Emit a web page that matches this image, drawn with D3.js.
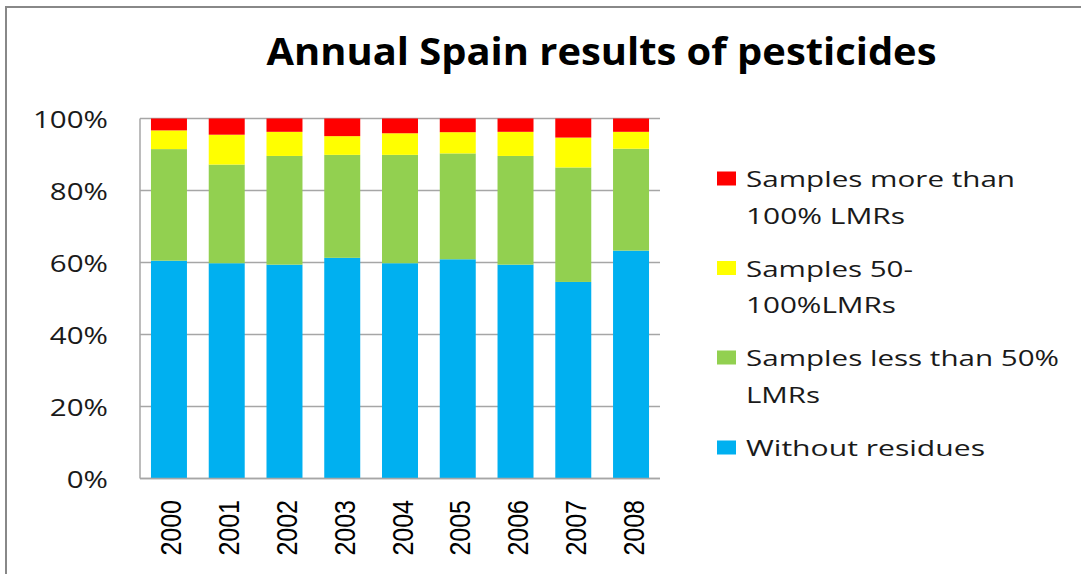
<!DOCTYPE html>
<html lang="en">
<head>
    <meta http-equiv="Content-Type" content="text/html; charset=utf-8" />
    <title>Annual Spain results of pesticides</title>
    <style type="text/css">
        body{ margin:0; background:#fff; }
        text{ fill:#1a1a1a; }
    </style>
</head>
<body>

<script src="https://cdn.jsdelivr.net/npm/d3@7/dist/d3.min.js"></script>

<script>
    // data (percent of samples)
    var years = ["2000","2001","2002","2003","2004","2005","2006","2007","2008"];
    var withoutResidues = [60.5, 59.8, 59.4, 61.3, 59.8, 60.9, 59.4, 54.6, 63.3];
    var lessThan50      = [31.0, 27.4, 30.2, 28.6, 30.1, 29.4, 30.2, 31.8, 28.3];
    var from50to100     = [5.2, 8.3, 6.7, 5.2, 6.0, 5.9, 6.7, 8.3, 4.7];
    var moreThan100     = [3.3, 4.5, 3.7, 4.9, 4.1, 3.8, 3.7, 5.3, 3.7];
    var yTicks = [0, 20, 40, 60, 80, 100];

    var series = [
        {key:"without", label:["Without residues"], color:"#00B0F0", values:withoutResidues},
        {key:"less50",  label:["Samples less than 50%","LMRs"], color:"#92D050", values:lessThan50},
        {key:"50to100", label:["Samples 50-","100%LMRs"], color:"#FFFF00", values:from50to100},
        {key:"more100", label:["Samples more than","100% LMRs"], color:"#FF0000", values:moreThan100}
    ];

    var width = 1081, height = 574;
    var svg = d3.select("body").append("svg")
        .attr("width", width)
        .attr("height", height);

    // chart border (runs off the right and bottom)
    svg.append("rect")
        .attr("x", 6).attr("y", 7)
        .attr("width", 1200).attr("height", 700)
        .attr("fill", "none")
        .attr("stroke", "#888")
        .attr("stroke-width", 2);

    // title
    svg.append("text")
        .attr("x", 601.5).attr("y", 65)
        .attr("text-anchor", "middle")
        .attr("font-family", "'Open Sans', sans-serif")
        .attr("font-weight", 700)
        .attr("font-size", 37)
        .attr("textLength", 670)
        .attr("lengthAdjust", "spacingAndGlyphs")
        .style("fill", "#000")
        .text("Annual Spain results of pesticides");

    var x = d3.scaleBand()
        .domain(years)
        .range([140, 660])
        .paddingInner(0.377)
        .paddingOuter(0.19);

    var y = d3.scaleLinear()
        .domain([0, 100])
        .range([478.5, 118.5]);

    // gridlines
    svg.append("g")
        .selectAll("line")
        .data(yTicks)
        .enter()
        .append("line")
        .attr("x1", 140).attr("x2", 660)
        .attr("y1", function(d){ return y(d); })
        .attr("y2", function(d){ return y(d); })
        .attr("stroke", "#a6a6a6")
        .attr("stroke-width", 1.5);

    // stacked bars
    var table = years.map(function(yr, i){
        var row = {year: yr};
        series.forEach(function(s){ row[s.key] = s.values[i]; });
        return row;
    });
    var stack = d3.stack().keys(series.map(function(s){ return s.key; }));
    var layers = stack(table);

    svg.append("g")
        .selectAll("g")
        .data(layers)
        .enter()
        .append("g")
        .attr("fill", function(d, i){ return series[i].color; })
        .selectAll("rect")
        .data(function(d){ return d; })
        .enter()
        .append("rect")
        .attr("x", function(d){ return x(d.data.year); })
        .attr("width", x.bandwidth())
        .attr("y", function(d){ return y(d[1]); })
        .attr("height", function(d){ return y(d[0]) - y(d[1]); });

    // axis lines
    svg.append("line")
        .attr("x1", 140).attr("x2", 140)
        .attr("y1", y(100)).attr("y2", y(0))
        .attr("stroke", "#a6a6a6").attr("stroke-width", 1.5);
    svg.append("line")
        .attr("x1", 140).attr("x2", 660)
        .attr("y1", y(0)).attr("y2", y(0))
        .attr("stroke", "#a6a6a6").attr("stroke-width", 1.5);

    // y tick labels, stretched like the original
    var yLab = svg.append("g")
        .selectAll("text")
        .data(yTicks)
        .enter()
        .append("text")
        .attr("x", 108)
        .attr("y", function(d){ return y(d) + 1.5; })
        .attr("dy", "0.36em")
        .attr("text-anchor", "end")
        .attr("font-family", "'Open Sans', sans-serif")
        .attr("font-size", 23)
        .text(function(d){ return d + "%"; });
    var refLen = 0;
    yLab.each(function(d){ if (d === 100) refLen = this.getComputedTextLength(); });
    var yStretch = 75 / refLen;
    yLab.each(function(){
        d3.select(this)
            .attr("textLength", this.getComputedTextLength() * yStretch)
            .attr("lengthAdjust", "spacingAndGlyphs");
    });

    // year labels, rotated
    svg.append("g")
        .selectAll("text")
        .data(years)
        .enter()
        .append("text")
        .attr("transform", function(d){
            return "translate(" + (x(d) + x.bandwidth()/2 + 12.5) + ",500) scale(1.2,1) rotate(-90)";
        })
        .attr("text-anchor", "end")
        .attr("font-family", "'Liberation Sans', Arial, sans-serif")
        .attr("font-size", 25)
        .style("fill", "#000")
        .text(function(d){ return d; });

    // legend
    var legendWidths = {
        "Samples more than":269, "100% LMRs":159,
        "Samples 50-":167, "100%LMRs":150,
        "Samples less than 50%":313, "LMRs":74,
        "Without residues":239
    };
    var legendTop = [187, 276.5, 366, 456];
    var legendOrder = series.slice().reverse();
    var lg = svg.append("g")
        .selectAll("g")
        .data(legendOrder)
        .enter()
        .append("g")
        .attr("transform", function(d, i){ return "translate(0," + legendTop[i] + ")"; });

    lg.append("rect")
        .attr("x", 717).attr("y", -15.5)
        .attr("width", 19).attr("height", 14)
        .attr("fill", function(d){ return d.color; });

    lg.selectAll("text")
        .data(function(d){ return d.label; })
        .enter()
        .append("text")
        .attr("x", 746)
        .attr("y", function(d, i){ return i * 36.5; })
        .attr("font-family", "'Open Sans', sans-serif")
        .attr("font-size", 22.5)
        .attr("textLength", function(d){ return legendWidths[d]; })
        .attr("lengthAdjust", "spacingAndGlyphs")
        .text(function(d){ return d; });
</script>

</body>
</html>
